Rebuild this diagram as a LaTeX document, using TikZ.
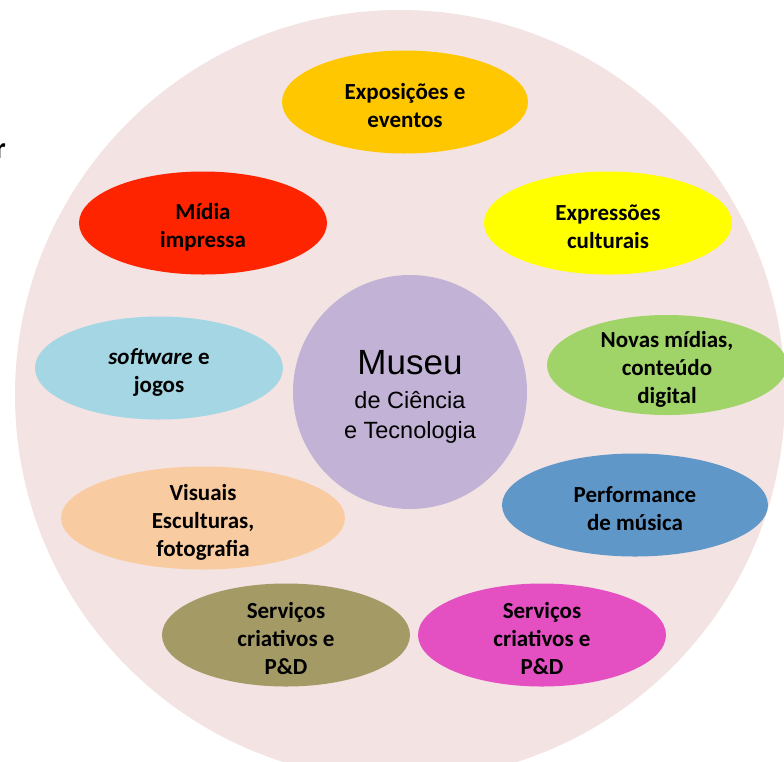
\documentclass[tikz,border=0pt]{standalone}
\usepackage{fontspec}
\setmainfont{Carlito}
\setsansfont{Liberation Sans}
\usetikzlibrary{shapes.geometric}

\definecolor{fundo}{HTML}{F3E3E3}
\definecolor{museucor}{HTML}{C2B3D6}
\definecolor{expocor}{HTML}{FFC700}
\definecolor{midiacor}{HTML}{FF2400}
\definecolor{exprcor}{HTML}{FFFF00}
\definecolor{softcor}{HTML}{A5D6E3}
\definecolor{novascor}{HTML}{A0D468}
\definecolor{visuaiscor}{HTML}{F9CBA0}
\definecolor{perfcor}{HTML}{6097C9}
\definecolor{olivacor}{HTML}{A39A66}
\definecolor{rosacor}{HTML}{E44FC1}

\tikzset{
  bolha/.style={ellipse, inner sep=0pt, minimum width=248pt, minimum height=103pt},
  rotulo/.style={align=center, inner sep=0pt, yshift=-4pt, font=\bfseries\fontsize{23}{28}\selectfont}
}

\begin{document}
\begin{tikzpicture}[x=1pt, y=-1pt]
\useasboundingbox (0,0) rectangle (784,761);

% fundo
\fill[fundo] (400,395) circle (385);
\node[anchor=base east, inner sep=0pt, font=\bfseries\fontsize{30}{30}\selectfont] (resto) at (6,158) {r};

% centro
\node[circle, fill=museucor, minimum size=234pt] (museu) at (410,392) {};
\node[align=center, inner sep=0pt, font=\sffamily\fontsize{23.5}{30}\selectfont] (museutxt) at (410,397)
  {{\fontsize{35}{37}\selectfont Museu}\\[4pt] de Ciência\\ e Tecnologia};

% bolhas
\node[bolha, fill=expocor, minimum width=246pt] (expo) at (405,102) {};
\node[rotulo] at (expo) {Exposições e\\eventos};

\node[bolha, fill=midiacor] (midia) at (203,223) {};
\node[rotulo] at (midia) {Mídia\\impressa};

\node[bolha, fill=exprcor] (expr) at (608,223) {};
\node[rotulo] at (expr) {Expressões\\culturais};

\node[bolha, fill=softcor] (soft) at (159,368) {};
\node[rotulo] at (soft) {\textit{software} e\\jogos};

\node[bolha, fill=novascor, minimum width=240pt, minimum height=100pt] (novas) at (667,365) {};
\node[rotulo] at (novas) {Novas mídias,\\conteúdo\\digital};

\node[bolha, fill=visuaiscor, minimum width=284pt] (visuais) at (203,518) {};
\node[rotulo] at (visuais) {Visuais\\Esculturas,\\fotografia};

\node[bolha, fill=perfcor, minimum width=266pt] (perf) at (635,505) {};
\node[rotulo] at (perf) {Performance\\de música};

\node[bolha, fill=olivacor] (servolive) at (286,635) {};
\node[rotulo] at (servolive) {Serviços\\criativos e\\P\&D};

\node[bolha, fill=rosacor] (servrosa) at (542,635) {};
\node[rotulo] at (servrosa) {Serviços\\criativos e\\P\&D};
\end{tikzpicture}
\end{document}
